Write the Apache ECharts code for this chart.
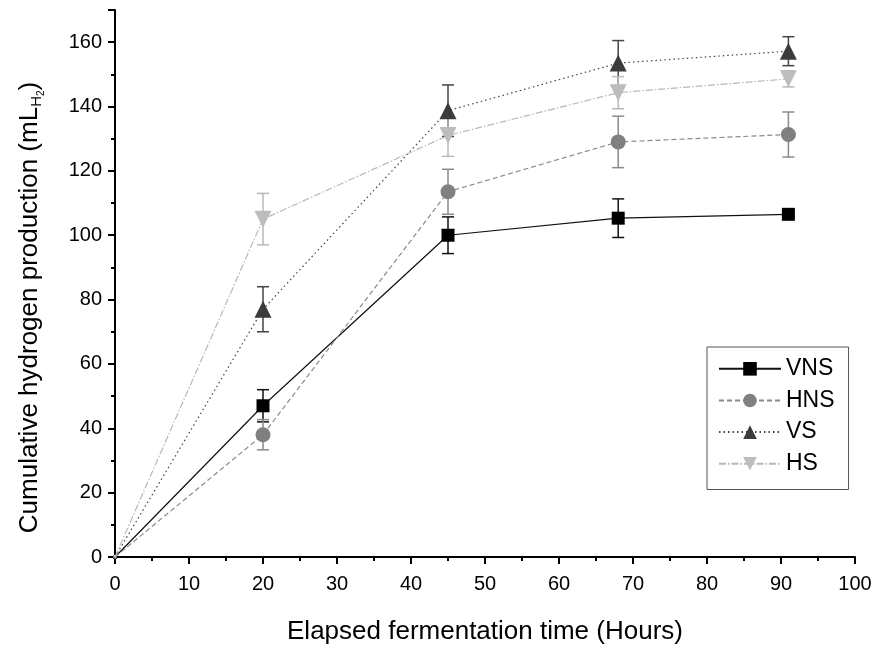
<!DOCTYPE html>
<html>
<head>
    <title>Cumulative hydrogen production</title>
    <script src="https://cdn.jsdelivr.net/npm/echarts@6/dist/echarts.min.js"></script>
</head>
<body style="margin:0">
    <div id="chart" style="width: 877px; height: 646px;"></div>
    <script>
        // values
        var hours = [0, 20, 45, 68, 91];
        var vns = [0, 47, 100, 105.3, 106.5];
        var vnsErr = [0, 5, 5.7, 6, 0.8];
        var hns = [0, 38, 113.5, 129, 131.3];
        var hnsErr = [0, 4.7, 7, 8, 7];
        var vs = [0, 77, 138.7, 153.5, 157.2];
        var vsErr = [0, 7, 8, 7, 4.5];
        var hs = [0, 105, 131, 144.3, 148.6];
        var hsErr = [0, 8, 6.5, 5, 2.5];

        var font = 'Liberation Sans, Arial, sans-serif';
        var chart = echarts.init(document.querySelector("#chart"));

        function pairs(vals) {
            return hours.map(function (h, i) { return [h, vals[i]]; });
        }

        function lineSeries(name, vals, symbol, size, color, lineColor, dash, rotate) {
            return {
                name: name,
                type: 'line',
                data: pairs(vals),
                symbol: symbol,
                symbolRotate: rotate || 0,
                symbolSize: function (v, p) { return p.dataIndex === 0 ? 4 : size; },
                itemStyle: { color: color },
                lineStyle: { color: lineColor, width: 1.2, type: dash },
                z: 3
            };
        }

        // error bars drawn through the axes' coordinate system
        function errorSeries(vals, errs, color) {
            var data = [];
            hours.forEach(function (h, i) {
                if (errs[i] > 0) data.push([h, vals[i] - errs[i], vals[i] + errs[i]]);
            });
            return {
                type: 'custom',
                silent: true,
                z: 2,
                data: data,
                renderItem: function (params, api) {
                    var x = api.value(0);
                    var lo = api.coord([x, api.value(1)]);
                    var hi = api.coord([x, api.value(2)]);
                    var w = 6;
                    var st = { stroke: color, lineWidth: 1.5 };
                    return {
                        type: 'group',
                        children: [
                            { type: 'line', shape: { x1: lo[0], y1: lo[1], x2: hi[0], y2: hi[1] }, style: st },
                            { type: 'line', shape: { x1: lo[0] - w, y1: lo[1], x2: lo[0] + w, y2: lo[1] }, style: st },
                            { type: 'line', shape: { x1: hi[0] - w, y1: hi[1], x2: hi[0] + w, y2: hi[1] }, style: st }
                        ]
                    };
                }
            };
        }

        var option = {
            animation: false,
            backgroundColor: '#fff',
            textStyle: { fontFamily: font },
            grid: { left: 115, right: 22, top: 10, bottom: 89, outerBoundsMode: 'none' },
            legend: {
                data: ['VNS', 'HNS', 'VS', 'HS'],
                orient: 'vertical',
                left: 707,
                top: 347,
                padding: [2, 14, 6, 11],
                itemWidth: 62,
                itemHeight: 17,
                itemGap: -8,
                borderColor: '#555',
                borderWidth: 1,
                textStyle: { fontSize: 23, lineHeight: 24, color: '#000', fontFamily: font }
            },
            xAxis: {
                type: 'value',
                min: 0,
                max: 100,
                interval: 10,
                name: 'Elapsed fermentation time (Hours)',
                nameLocation: 'middle',
                nameGap: 52,
                nameTextStyle: { fontSize: 26, color: '#000', fontFamily: font },
                axisLine: { onZero: false, lineStyle: { color: '#000', width: 2 } },
                axisTick: { length: 7, lineStyle: { color: '#000', width: 2 } },
                minorTick: { show: true, splitNumber: 2, length: 4, lineStyle: { color: '#000', width: 2 } },
                axisLabel: { fontSize: 20, color: '#000', margin: 10, fontFamily: font },
                splitLine: { show: false }
            },
            yAxis: {
                type: 'value',
                min: 0,
                max: 170,
                interval: 20,
                name: 'Cumulative hydrogen production (mL{h|H}{two|2})',
                nameLocation: 'middle',
                nameGap: 70,
                nameTextStyle: {
                    fontSize: 26, color: '#000', fontFamily: font, lineHeight: 30,
                    padding: [0, 48, 0, 0],
                    rich: {
                        h: { fontSize: 15, lineHeight: 15, padding: [14, 0, 0, 0], color: '#000', fontFamily: font },
                        two: { fontSize: 10, lineHeight: 10, padding: [22, 0, 0, 0], color: '#000', fontFamily: font }
                    }
                },
                axisLine: { onZero: false, lineStyle: { color: '#000', width: 2 } },
                axisTick: { length: 7, lineStyle: { color: '#000', width: 2 } },
                minorTick: { show: true, splitNumber: 2, length: 4, lineStyle: { color: '#000', width: 2 } },
                axisLabel: { fontSize: 20, color: '#000', margin: 13, fontFamily: font },
                splitLine: { show: false }
            },
            series: [
                errorSeries(vns, vnsErr, '#111'),
                errorSeries(hns, hnsErr, '#8a8a8a'),
                errorSeries(vs, vsErr, '#444'),
                errorSeries(hs, hsErr, '#b8b8b8'),
                lineSeries('VNS', vns, 'rect', 13, '#000', '#111', 'solid'),
                lineSeries('HNS', hns, 'circle', 15, '#808080', '#8a8a8a', [5, 3]),
                lineSeries('VS', vs, 'triangle', 17, '#3c3c3c', '#444', [1.5, 3]),
                lineSeries('HS', hs, 'triangle', 17, '#bdbdbd', '#b8b8b8', [7, 2, 1.5, 2], 180)
            ]
        };
        chart.setOption(option);
    </script>
</body>
</html>
